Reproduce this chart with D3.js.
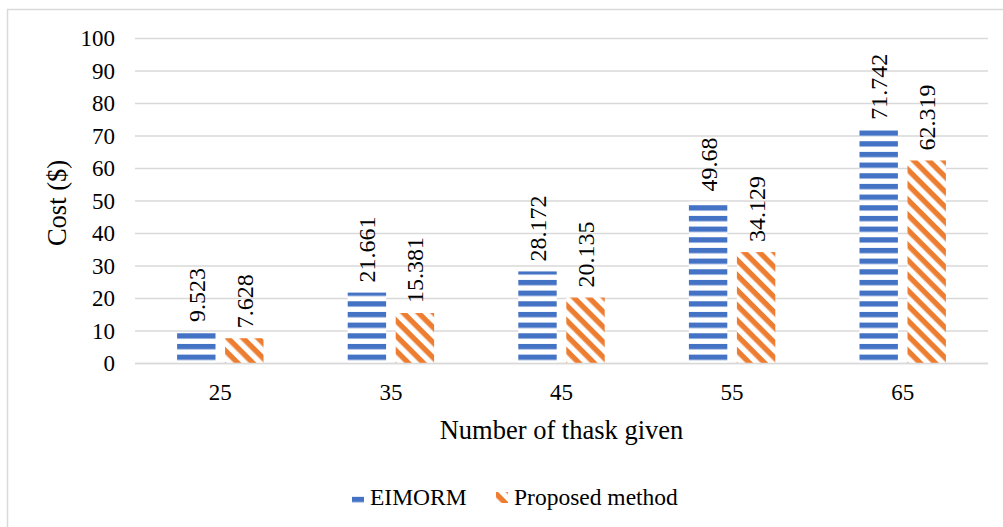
<!DOCTYPE html>
<html>
<head>
<meta charset="utf-8">
<script src="https://cdn.jsdelivr.net/npm/d3@7/dist/d3.min.js"></script>
<style>
  html, body { margin: 0; padding: 0; background: #fff; }
</style>
</head>
<body>
<svg id="chart" width="1003" height="527"></svg>
<script>
// Task counts on the x axis
const categories = ["25", "35", "45", "55", "65"];
// Cost per method
const eimorm = [9.523, 21.661, 28.172, 49.68, 71.742];
const proposed = [7.628, 15.381, 20.135, 34.129, 62.319];
const seriesNames = ["EIMORM", "Proposed method"];
const yTicks = [0, 10, 20, 30, 40, 50, 60, 70, 80, 90, 100];

const FONT = "Liberation Serif";
const svg = d3.select("#chart");
const blue = "#4472C4", orange = "#ED7D31", grid = "#d9d9d9";

// Fill patterns: horizontal bands and wide downward diagonals
const defs = svg.append("defs");
const cell = 10.67;
const pH = defs.append("pattern").attr("id", "patH")
  .attr("patternUnits", "userSpaceOnUse").attr("width", cell).attr("height", cell)
  .attr("y", 2.5);
pH.append("rect").attr("width", cell).attr("height", cell).attr("fill", "#fff");
pH.append("rect").attr("width", cell).attr("height", cell / 2).attr("fill", blue);

const pD = defs.append("pattern").attr("id", "patD")
  .attr("patternUnits", "userSpaceOnUse").attr("width", cell).attr("height", cell)
  .attr("patternTransform", "rotate(45)");
pD.append("rect").attr("width", cell).attr("height", cell).attr("fill", "#fff");
pD.append("rect").attr("width", cell).attr("height", cell / 2).attr("fill", orange);

// Outer chart frame
svg.append("rect").attr("x", 7.5).attr("y", 9.5).attr("width", 1010).attr("height", 530)
  .attr("fill", "none").attr("stroke", grid).attr("stroke-width", 1.5);

const plot = { left: 135, right: 988, top: 38, bottom: 363 };

const x0 = d3.scaleBand().domain(categories).range([plot.left, plot.right]);
const x1 = d3.scaleBand().domain(seriesNames).range([0, x0.bandwidth()])
  .paddingInner(0.2).paddingOuter(0.877);
const y = d3.scaleLinear().domain([0, 100]).range([plot.bottom, plot.top]);

// Gridlines
svg.append("g").selectAll("line").data(yTicks).join("line")
  .attr("x1", plot.left).attr("x2", plot.right)
  .attr("y1", d => y(d) + 0.5).attr("y2", d => y(d) + 0.5)
  .attr("stroke", grid).attr("stroke-width", 1.3);

// Y axis tick labels
const yAxis = svg.append("g").attr("transform", `translate(${plot.left - 20},0)`)
  .call(d3.axisLeft(y).tickValues(yTicks).tickSize(0).tickPadding(0).tickFormat(d3.format("d")));
yAxis.select(".domain").remove();
yAxis.selectAll("text").style("font-family", FONT).attr("font-size", 23)
  .attr("fill", "#000").attr("dy", "0.34em");

// X axis labels
const xAxis = svg.append("g").attr("transform", `translate(0,${plot.bottom})`)
  .call(d3.axisBottom(x0).tickSize(0).tickPadding(21));
xAxis.select(".domain").remove();
xAxis.selectAll("text").style("font-family", FONT).attr("font-size", 23).attr("fill", "#000");

// Bars
const rows = categories.map((c, i) => ({ cat: c, vals: [
  { name: seriesNames[0], v: eimorm[i], fill: "url(#patH)" },
  { name: seriesNames[1], v: proposed[i], fill: "url(#patD)" }] }));

const groups = svg.append("g").selectAll("g").data(rows).join("g")
  .attr("transform", d => `translate(${x0(d.cat)},0)`);

groups.selectAll("rect").data(d => d.vals).join("rect")
  .attr("x", d => x1(d.name)).attr("width", x1.bandwidth())
  .attr("y", d => y(d.v)).attr("height", d => y(0) - y(d.v))
  .attr("fill", d => d.fill);

// Value labels, rotated
groups.selectAll("text").data(d => d.vals).join("text")
  .attr("transform", d => `translate(${x1(d.name) + x1.bandwidth() / 2},${y(d.v) - 10}) rotate(-90)`)
  .attr("dy", "0.35em").attr("text-anchor", "start")
  .style("font-family", FONT).attr("font-size", 24).attr("fill", "#000")
  .text(d => d.v);

// Baseline
svg.append("line").attr("x1", plot.left).attr("x2", plot.right)
  .attr("y1", plot.bottom + 0.5).attr("y2", plot.bottom + 0.5)
  .attr("stroke", grid).attr("stroke-width", 1.3);

// Axis titles
svg.append("text").attr("transform", `translate(66,203) rotate(-90)`)
  .attr("text-anchor", "middle").style("font-family", FONT).attr("font-size", 26.5)
  .attr("fill", "#000").text("Cost ($)");
svg.append("text").attr("x", (plot.left + plot.right) / 2).attr("y", 439)
  .attr("text-anchor", "middle").style("font-family", FONT).attr("font-size", 26.5)
  .attr("fill", "#000").text("Number of thask given");

// Legend
const legend = svg.append("g").attr("transform", "translate(352,505)");
const items = [
  { name: seriesNames[0], fill: "url(#patH)", x: 0 },
  { name: seriesNames[1], fill: "url(#patD)", x: 144 }];
const li = legend.selectAll("g").data(items).join("g")
  .attr("transform", d => `translate(${d.x},0)`);
li.append("rect").attr("x", 0).attr("y", -13).attr("width", 12).attr("height", 11)
  .attr("fill", d => d.fill);
li.append("text").attr("x", 18).style("font-family", FONT)
  .attr("font-size", 23.5).attr("fill", "#000").text(d => d.name);
</script>
</body>
</html>
